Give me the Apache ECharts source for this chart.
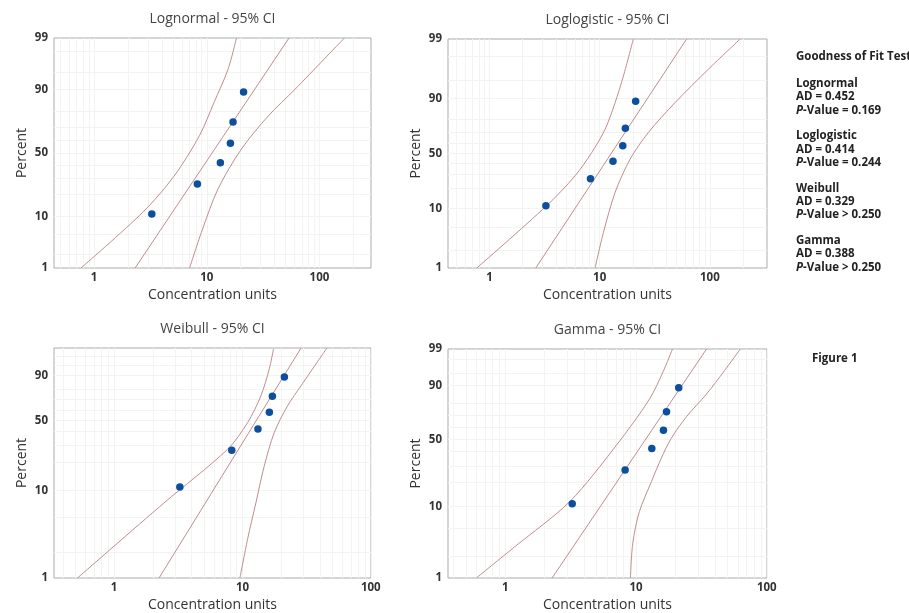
<!DOCTYPE html>
<html>
<head>
<meta charset="utf-8">
<script src="https://cdn.jsdelivr.net/npm/echarts@6/dist/echarts.min.js"></script>
<style>
	html, body { margin: 0; padding: 0; background: #fff; }
	#chart { width: 909px; height: 613px; }
</style>
</head>
<body>
<div id="chart"></div>
<script>
// Sample values and their plotting positions (%)
const concentration = [3.25, 8.25, 13.2, 16.2, 17.1, 21.2]
const percentRank = [10.9, 26.6, 42.2, 57.8, 73.4, 89.1]

// Tick labels and grid values
const percentTicks = [1, 10, 50, 90, 99]
const weibullTicks = [1, 10, 50, 90]
const percentGrid = [2, 5, 10, 20, 30, 40, 50, 60, 70, 80, 90, 95, 98]
const concTicks = [1, 10, 100]
const concGrid = [0.4, 0.5, 0.6, 0.7, 0.8, 0.9, 1, 2, 3, 4, 5, 6, 7, 8, 9, 10, 20, 30, 40, 50, 60, 70, 80, 90, 100, 200]

// Lognormal - fit line and 95% CI
const lognormFitX = [2.31, 53.7]
const lognormFitP = [1, 99]
const lognormLowX = [0.764, 2.7, 5.1, 8.6, 11.6, 15.45, 18.35]
const lognormLowP = [1, 11.5, 31.8, 63.7, 84.7, 95.5, 99]
const lognormHighX = [7.04, 8.95, 12.58, 20.3, 35.1, 60.6, 166.6]
const lognormHighP = [1, 5.4, 23.4, 53.2, 77.3, 90.1, 99]

// Loglogistic - fit line and 95% CI
const loglogFitX = [2.63, 61.5]
const loglogFitP = [1, 99]
const loglogLowX = [0.767, 3.29, 5.98, 8.47, 11.2, 13.8, 16.4, 20.2]
const loglogLowP = [1, 10.9, 29.0, 51, 72.6, 88.5, 95.7, 99]
const loglogHighX = [9.08, 10.8, 13.8, 18.9, 27.6, 48.3, 96.7, 188.6]
const loglogHighP = [1, 4.0, 17.3, 44.4, 69.8, 88.5, 96.7, 99]

// Weibull - fit line and 95% CI
const weibullFitX = [2.24, 28.6]
const weibullFitP = [1, 99.2]
const weibullLowX = [0.518, 2.45, 7.64, 10.94, 13.9, 16.15, 17.45]
const weibullLowP = [1, 7.28, 27.2, 47.7, 73.6, 93.5, 99.1]
const weibullHighX = [9.55, 10.94, 12.72, 14.76, 17.66, 22.4, 28.5, 45.5]
const weibullHighP = [1, 2.78, 7.28, 18.3, 39.1, 63.8, 82.5, 99.2]

// Gamma - fit line and 95% CI
const gammaFitX = [2.28, 34.6]
const gammaFitP = [1, 99]
const gammaLowX = [0.601, 1.18, 3.1, 7.08, 12.7, 16.1, 19.0]
const gammaLowP = [1, 2.84, 11.5, 45, 82.7, 95.2, 99]
const gammaHighX = [9.06, 9.44, 10.6, 13.1, 15.6, 18.6, 24.3, 34.5, 47.5, 62.7]
const gammaHighP = [1, 3.2, 8.6, 19.9, 34.7, 50.9, 69.5, 85.6, 95.5, 99]

// Goodness of fit table
const fitNames = ['Lognormal', 'Loglogistic', 'Weibull', 'Gamma']
const adValues = ['0.452', '0.414', '0.329', '0.388']
const pValues = ['= 0.169', '= 0.244', '> 0.250', '> 0.250']

const FONT = '"Open Sans", "Noto Sans", sans-serif'
const LINE_COLOR = '#bf8d8d'
const DOT_COLOR = '#0b4f9e'
const GRID_COLOR = '#f3f3f3'

// Inverse standard normal CDF (Acklam)
normInv = (p) => {
	var a = [-39.69683028665376, 220.9460984245205, -275.9285104469687, 138.357751867269, -30.66479806614716, 2.506628277459239]
	var b = [-54.47609879822406, 161.5858368580409, -155.6989798598866, 66.80131188771972, -13.28068155022803]
	var c = [-0.007784894002430293, -0.3223964580411365, -2.400758277161838, -2.549732539343734, 4.374664141464968, 2.938163982698783]
	var d = [0.007784695709041462, 0.3224671290700398, 2.445134137142996, 3.754408661907416]
	var q, r
	if (p < 0.02425) {
		q = Math.sqrt(-2 * Math.log(p))
		return (((((c[0] * q + c[1]) * q + c[2]) * q + c[3]) * q + c[4]) * q + c[5]) / ((((d[0] * q + d[1]) * q + d[2]) * q + d[3]) * q + 1)
	}
	if (p > 1 - 0.02425) {
		q = Math.sqrt(-2 * Math.log(1 - p))
		return -(((((c[0] * q + c[1]) * q + c[2]) * q + c[3]) * q + c[4]) * q + c[5]) / ((((d[0] * q + d[1]) * q + d[2]) * q + d[3]) * q + 1)
	}
	q = p - 0.5
	r = q * q
	return ((((((a[0] * r + a[1]) * r + a[2]) * r + a[3]) * r + a[4]) * r + a[5]) * q) / (((((b[0] * r + b[1]) * r + b[2]) * r + b[3]) * r + b[4]) * r + 1)
}

// Probability scales (percent -> axis units)
const lognormScale = (p) => normInv(p / 100)
const loglogScale = (p) => Math.log(p / (100 - p))
const weibullScale = (p) => Math.log(-Math.log(1 - p / 100))
const gammaScale = (p) => {
	const k = 3.8
	const z = normInv(p / 100)
	return Math.log10(k * Math.pow(1 - 1 / (9 * k) + z / (3 * Math.sqrt(k)), 3))
}

const zip = (xs, ps, scale) => xs.map((x, i) => [x, scale(ps[i])])

const panels = [
	{
		title: 'Lognormal - 95% CI', scale: lognormScale, ticks: percentTicks, pMax: 99, xMin: 0.44, xMax: 287,
		grid: { left: 54, top: 38, width: 317, height: 230 },
		fit: [lognormFitX, lognormFitP], low: [lognormLowX, lognormLowP], high: [lognormHighX, lognormHighP],
	},
	{
		title: 'Loglogistic - 95% CI', scale: loglogScale, ticks: percentTicks, pMax: 99, xMin: 0.42, xMax: 330,
		grid: { left: 448, top: 39, width: 319, height: 229 },
		fit: [loglogFitX, loglogFitP], low: [loglogLowX, loglogLowP], high: [loglogHighX, loglogHighP],
	},
	{
		title: 'Weibull - 95% CI', scale: weibullScale, ticks: weibullTicks, pMax: 99.2, xMin: 0.34, xMax: 100.3,
		grid: { left: 54, top: 348, width: 317, height: 230 },
		fit: [weibullFitX, weibullFitP], low: [weibullLowX, weibullLowP], high: [weibullHighX, weibullHighP],
	},
	{
		title: 'Gamma - 95% CI', scale: gammaScale, ticks: percentTicks, pMax: 99, xMin: 0.365, xMax: 100.3,
		grid: { left: 448, top: 349, width: 319, height: 229 },
		fit: [gammaFitX, gammaFitP], low: [gammaLowX, gammaLowP], high: [gammaHighX, gammaHighP],
	},
]

buildChart = () => {
	var chart = echarts.init(document.getElementById('chart'))
	var grid = [], xAxis = [], yAxis = [], series = [], graphic = []

	panels.forEach((pn, i) => {
		const g = pn.grid
		const yMin = pn.scale(1)
		const yMax = pn.scale(pn.pMax)
		grid.push(Object.assign({ show: true, borderColor: '#ababab', borderWidth: 1, containLabel: false }, g))

		xAxis.push({
			type: 'log', logBase: 10, gridIndex: i, min: pn.xMin, max: pn.xMax,
			name: 'Concentration units', nameLocation: 'middle', nameGap: 20,
			nameTextStyle: { fontFamily: FONT, fontSize: 14, color: '#333' },
			axisLine: { show: false },
			axisTick: { show: true, length: 3, customValues: concTicks, lineStyle: { color: '#999' } },
			axisLabel: {
				customValues: concTicks, margin: 4, fontFamily: FONT, fontSize: 11.5, fontWeight: 'bold', color: '#333',
				formatter: (v) => String(concTicks.find((t) => Math.abs(Math.log10(t) - Math.log10(v)) < 1e-6)),
			},
			splitLine: { show: false },
		})
		yAxis.push({
			type: 'value', gridIndex: i, min: yMin, max: yMax,
			name: 'Percent', nameLocation: 'middle', nameGap: 25, nameRotate: 90,
			nameTextStyle: { fontFamily: FONT, fontSize: 14, color: '#333' },
			axisLine: { show: false },
			axisTick: { show: false },
			axisLabel: {
				customValues: pn.ticks.map(pn.scale), margin: 6, fontFamily: FONT, fontSize: 11.5, fontWeight: 'bold', color: '#333',
				formatter: (v) => String(pn.ticks.find((t) => Math.abs(pn.scale(t) - v) < 1e-6)),
			},
			splitLine: { show: false },
		})

		// faint reference grid, kept under the curves
		const gridLines = concGrid.filter((v) => v > pn.xMin && v < pn.xMax).map((v) => ({ xAxis: v }))
			.concat(percentGrid.filter((p) => p < pn.pMax).map((p) => ({ yAxis: pn.scale(p) })))
		series.push({
			type: 'line', xAxisIndex: i, yAxisIndex: i, data: [], z: 1, silent: true,
			markLine: {
				z: 1, silent: true, symbol: 'none', animation: false, label: { show: false },
				lineStyle: { color: GRID_COLOR, width: 1, type: 'solid' },
				emphasis: { disabled: true },
				data: gridLines,
			},
		})

		const lineBase = {
			type: 'line', xAxisIndex: i, yAxisIndex: i, showSymbol: false, symbol: 'none',
			lineStyle: { color: LINE_COLOR, width: 1 }, z: 3, silent: true,
		}
		series.push(Object.assign({}, lineBase, { data: zip(pn.fit[0], pn.fit[1], pn.scale) }))
		series.push(Object.assign({}, lineBase, { smooth: 0.3, data: zip(pn.low[0], pn.low[1], pn.scale) }))
		series.push(Object.assign({}, lineBase, { smooth: 0.3, data: zip(pn.high[0], pn.high[1], pn.scale) }))
		series.push({
			type: 'scatter', xAxisIndex: i, yAxisIndex: i, symbolSize: 7.5, z: 5,
			itemStyle: { color: DOT_COLOR, opacity: 1 },
			data: zip(concentration, percentRank, pn.scale),
		})

		// panel title
		graphic.push({
			type: 'text', x: g.left + g.width / 2, y: g.top - 19,
			style: { text: pn.title, align: 'center', verticalAlign: 'middle', font: '14px ' + FONT, fill: '#444' },
		})
	})

	// Goodness of fit text block
	const boldFont = 'bold 11.5px ' + FONT
	graphic.push({
		type: 'text', x: 796, y: 57,
		style: { text: 'Goodness of Fit Test', verticalAlign: 'middle', font: boldFont, fill: '#222' },
	})
	fitNames.forEach((name, i) => {
		const y0 = 83.5 + i * 52.4
		graphic.push({ type: 'text', x: 796, y: y0, style: { text: name, verticalAlign: 'middle', font: boldFont, fill: '#222' } })
		graphic.push({ type: 'text', x: 796, y: y0 + 13.4, style: { text: 'AD = ' + adValues[i], verticalAlign: 'middle', font: boldFont, fill: '#222' } })
		graphic.push({
			type: 'text', x: 796, y: y0 + 26.8,
			style: {
				text: '{i|P}-Value ' + pValues[i], verticalAlign: 'middle', font: boldFont, fill: '#222',
				rich: { i: { fontStyle: 'italic', fontWeight: 'bold', fontSize: 11.5, fontFamily: FONT, fill: '#222' } },
			},
		})
	})
	graphic.push({
		type: 'text', x: 812, y: 359,
		style: { text: 'Figure 1', verticalAlign: 'middle', font: boldFont, fill: '#222' },
	})

	chart.setOption({
		animation: false,
		backgroundColor: '#fff',
		grid: grid,
		xAxis: xAxis,
		yAxis: yAxis,
		series: series,
		graphic: graphic,
	})
}

buildChart()
</script>
</body>
</html>
